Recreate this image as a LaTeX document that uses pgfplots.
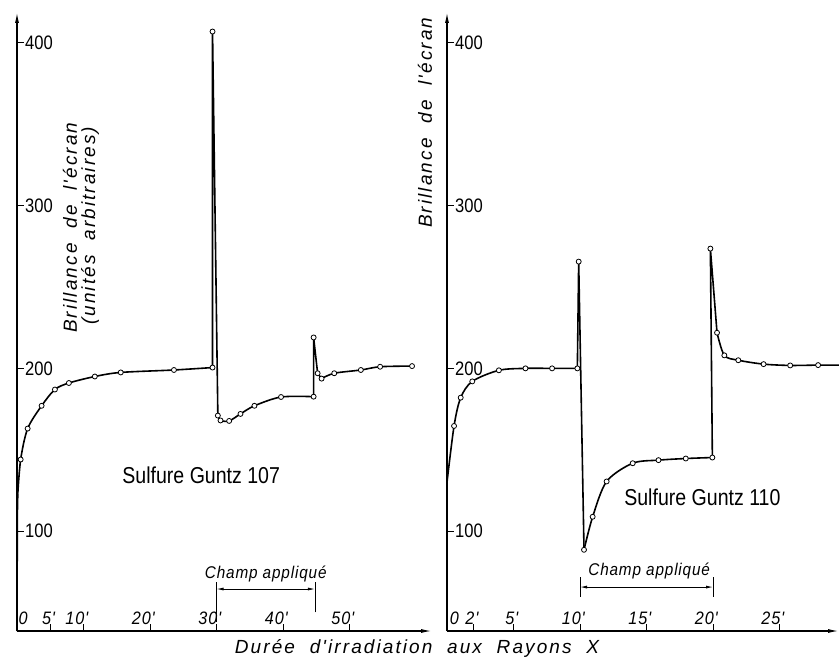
\documentclass[border=0pt]{standalone}
\usepackage{fontspec}
\usepackage{pgfplots}
\pgfplotsset{compat=1.18}
\usetikzlibrary{arrows.meta}

\newfontfamily\upf{Liberation Sans}[FakeStretch=0.85]
\newfontfamily\itf{Liberation Sans}[LetterSpace=11, WordSpace=2]
\newfontfamily\tkf{Liberation Sans}[FakeStretch=0.9, LetterSpace=5]

\pgfplotsset{
  panel/.style={
    axis lines=left,
    axis line style={line width=1.3pt, -{Latex[length=11pt,width=4pt]}},
    scale only axis,
    height=619pt,
    ymin=38.6, ymax=419,
    ytick={100,200,300,400},
    yticklabels={100,200,300,400},
    tick align=inside,
    major tick length=7pt,
    tick style={line width=0.9pt, black},
    yticklabel style={anchor=west, inner sep=0pt, xshift=8pt, font=\upf\fontsize{19.5}{20}\selectfont},
    xticklabel style={anchor=south east, inner sep=0pt, xshift=5pt, yshift=6pt,
      font=\tkf\itshape\fontsize{18}{19}\selectfont},
    clip=false,
  },
  crv/.style={line width=1.6pt, black, no markers},
  pts/.style={only marks, mark=*, mark size=2.5pt,
    mark options={fill=white, draw=black, line width=0.8pt}},
}

\begin{document}
\begin{tikzpicture}
\useasboundingbox (0pt,0pt) rectangle (839pt,657pt);

% ---- Sulfure Guntz 107
\begin{axis}[panel, at={(17pt,26pt)}, anchor=south west, width=415pt,
  xmin=0, xmax=62.4,
  xtick={5,10,20,30,40,50}, xticklabels={5',10',20',30',40',50'}]
\addplot[crv] coordinates {(0,38.6) (0.05,110) (0.12,123)};
\addplot[crv, smooth, tension=0.5] coordinates {
  (0.12,123) (0.55,144) (1.6,163) (3.7,177) (5.7,187) (7.8,191)
  (11.7,195) (15.6,197.5) (23.6,199) (29.4,200.5)};
\addplot[crv] coordinates {(29.4,200.5) (29.4,407) (30.2,171)};
\addplot[crv, smooth, tension=0.5] coordinates {
  (30.2,171) (30.6,168) (31.9,167.7) (33.6,172) (35.7,177) (39.7,182.4) (44.6,182.6)};
\addplot[crv] coordinates {(44.6,182.6) (44.6,219) (45.2,197) (45.8,193.7)};
\addplot[crv, smooth, tension=0.5] coordinates {
  (45.8,193.7) (47.7,197) (51.7,199) (54.6,201) (59.4,201.4)};
\addplot[pts] coordinates {
  (0.55,144) (1.6,163) (3.7,177) (5.7,187) (7.8,191) (11.7,195) (15.6,197.5)
  (23.6,199) (29.4,200.5) (29.4,407) (30.2,171) (30.6,168) (31.9,167.7)
  (33.6,172) (35.7,177) (39.7,182.4) (44.6,182.6) (44.6,219) (45.2,197)
  (45.8,193.7) (47.7,197) (51.7,199) (54.6,201) (59.4,201.4)};
\draw[line width=0.8pt] (axis cs:30,44) -- (axis cs:30,68.7);
\draw[line width=0.8pt] (axis cs:44.8,50) -- (axis cs:44.8,68.7);
\draw[line width=0.8pt, {Latex[length=7pt,width=3pt]}-{Latex[length=7pt,width=3pt]}]
  (axis cs:30,64.4) -- (axis cs:44.8,64.4);
\node[font=\tkf\itshape\fontsize{17}{18}\selectfont] at (axis cs:37.4,73.5) {Champ appliqué};
\node[font=\upf\fontsize{23}{25}\selectfont] at (axis cs:27.7,134.5) {Sulfure Guntz 107};
\node[font=\tkf\itshape\fontsize{18}{19}\selectfont, inner sep=0pt, anchor=south west] at (axis cs:0.2,42.3) {0};
\end{axis}

% ---- Sulfure Guntz 110
\begin{axis}[panel, at={(447pt,26pt)}, anchor=south west, width=392pt,
  xmin=0, xmax=29.47,
  xtick={2,5,10,15,20,25}, xticklabels={2',5',10',15',20',25'}]
\addplot[crv, smooth, tension=0.5] coordinates {
  (0,130) (0.53,164.6) (1.03,182) (1.9,192) (3.9,198.8) (5.9,200) (7.9,200) (9.8,200)};
\addplot[crv] coordinates {(9.8,200) (9.9,265.6) (10.3,88.5)};
\addplot[crv, smooth, tension=0.5] coordinates {
  (10.3,88.5) (10.95,108.8) (12.0,130.5) (13.96,141.7) (15.9,143.6) (17.95,144.6) (19.95,145.2)};
\addplot[crv] coordinates {(19.95,145.2) (19.8,273.6) (20.3,221.9)};
\addplot[crv, smooth, tension=0.5] coordinates {
  (20.3,221.9) (20.85,208) (21.9,205) (23.8,202.6) (25.8,201.8) (27.9,202) (29.47,202)};
\addplot[pts] coordinates {
  (0.53,164.6) (1.03,182) (1.9,192) (3.9,198.8) (5.9,200) (7.9,200) (9.8,200)
  (9.9,265.6) (10.3,88.5) (10.95,108.8) (12.0,130.5) (13.96,141.7) (15.9,143.6)
  (17.95,144.6) (19.95,145.2) (19.8,273.6) (20.3,221.9) (20.85,208) (21.9,205)
  (23.8,202.6) (25.8,201.8) (27.9,202)};
\draw[line width=0.8pt] (axis cs:10,59.5) -- (axis cs:10,72);
\draw[line width=0.8pt] (axis cs:20,59.5) -- (axis cs:20,72);
\draw[line width=0.8pt, {Latex[length=7pt,width=3pt]}-{Latex[length=7pt,width=3pt]}]
  (axis cs:10,65.6) -- (axis cs:20,65.6);
\node[font=\tkf\itshape\fontsize{17}{18}\selectfont] at (axis cs:15.2,75.5) {Champ appliqué};
\node[font=\upf\fontsize{23}{25}\selectfont] at (axis cs:19.2,121) {Sulfure Guntz 110};
\node[font=\tkf\itshape\fontsize{18}{19}\selectfont, inner sep=0pt, anchor=south west] at (axis cs:0.2,42.3) {0};
\end{axis}

% texts outside the axes
\node[font=\itf\itshape\fontsize{19}{20}\selectfont, inner sep=0pt] at (417pt,9pt) {Durée d'irradiation aux Rayons X};
\node[font=\itf\itshape\fontsize{19}{20}\selectfont, inner sep=0pt, rotate=90, anchor=west] at (70pt,324pt) {Brillance de l'écran};
\node[font=\itf\itshape\fontsize{19}{20}\selectfont, inner sep=0pt, rotate=90, anchor=west] at (90pt,332pt) {(unités arbitraires)};
\node[font=\itf\itshape\fontsize{19}{20}\selectfont, inner sep=0pt, rotate=90, anchor=west] at (425pt,429pt) {Brillance de l'écran};
\end{tikzpicture}
\end{document}
